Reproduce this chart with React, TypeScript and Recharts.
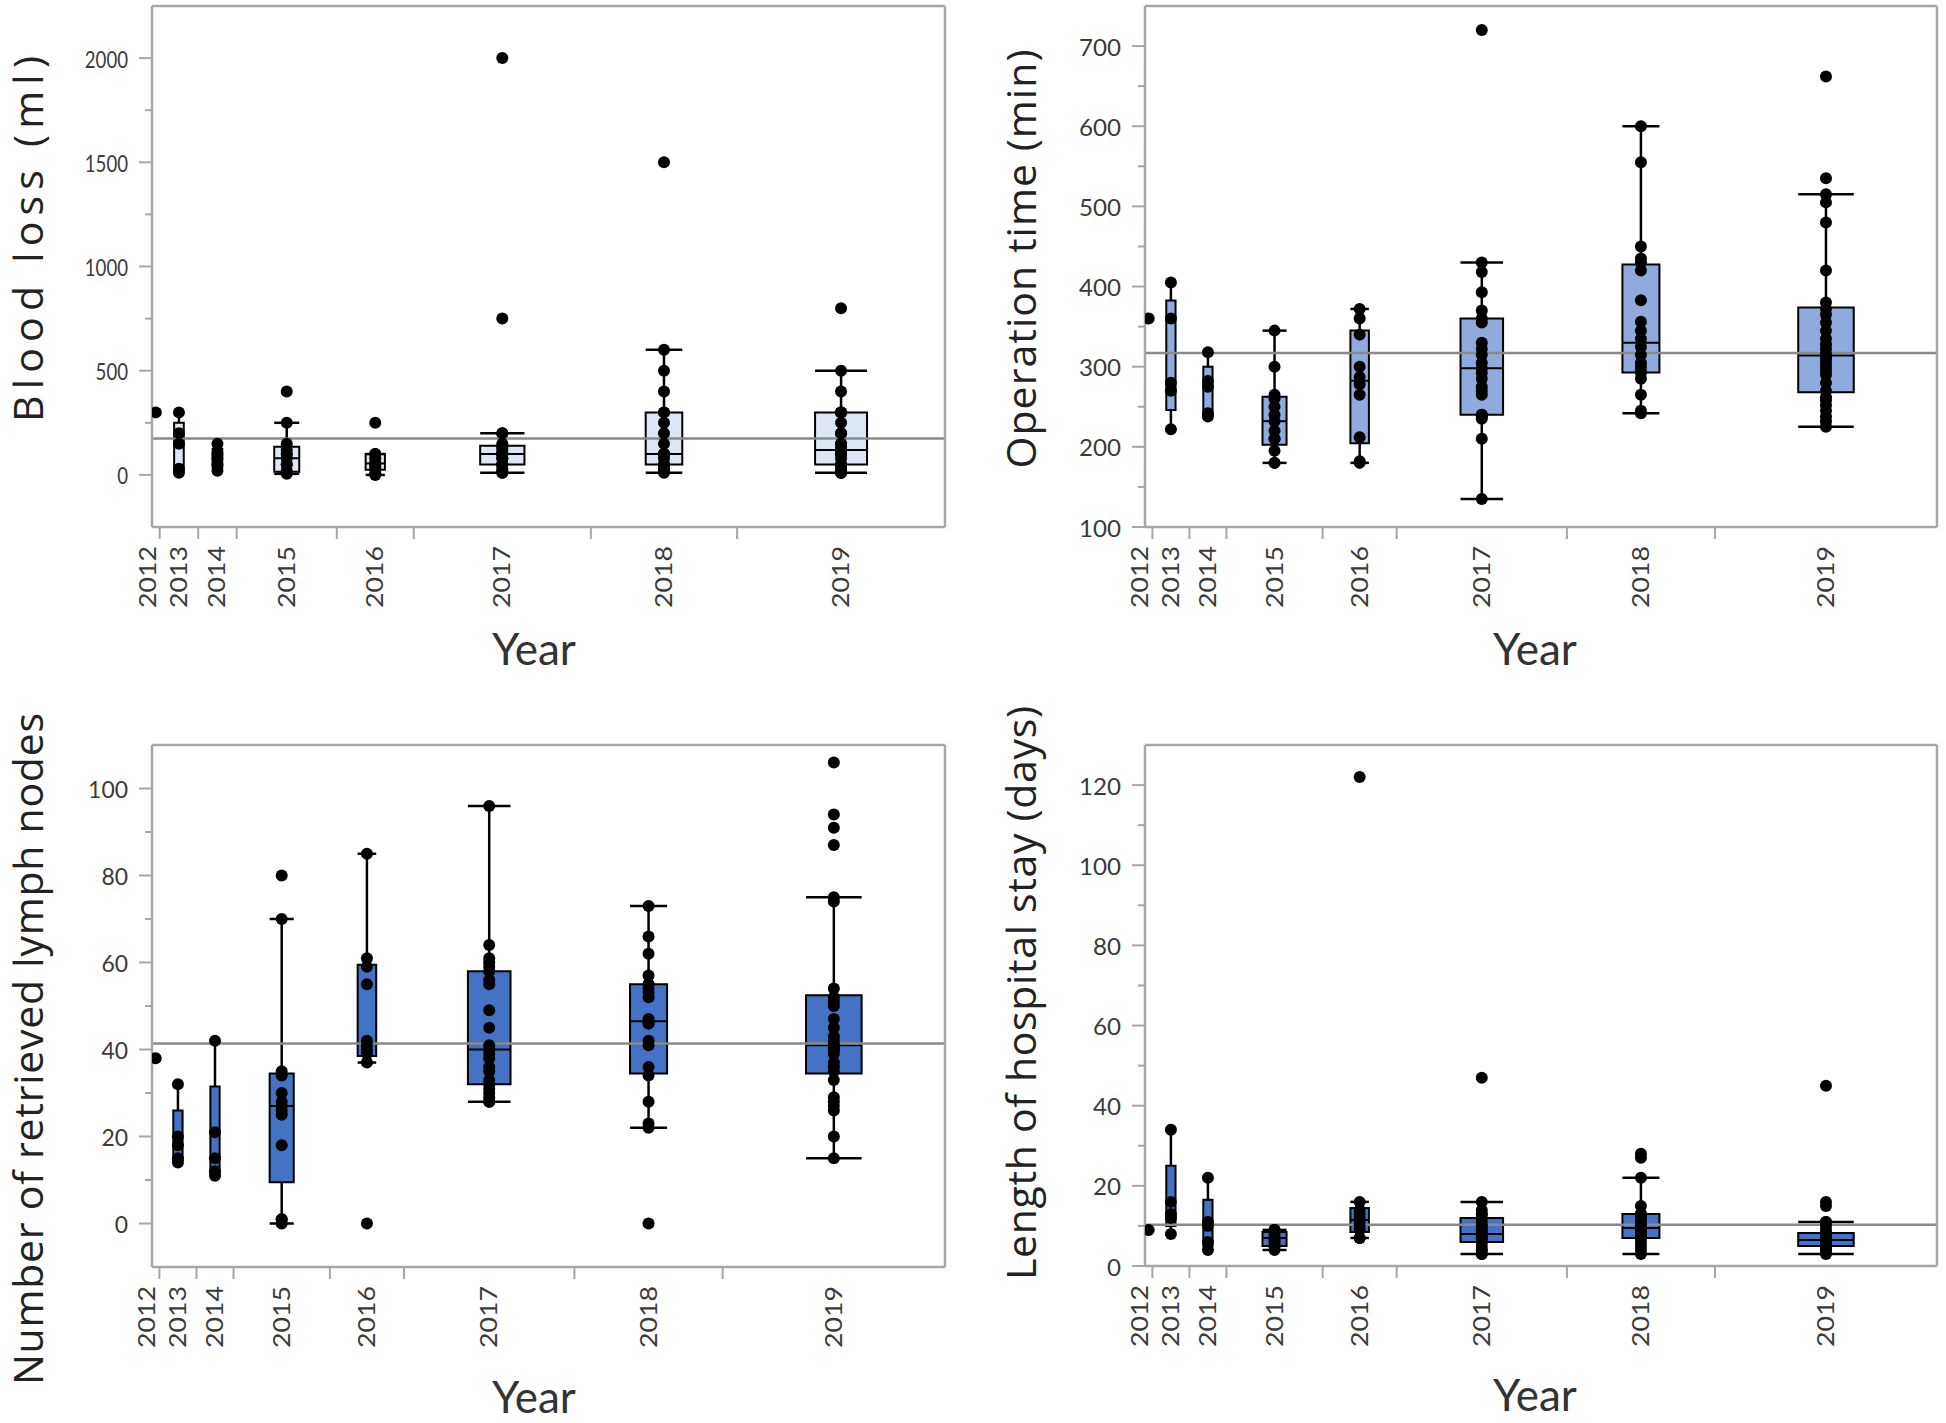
import React from 'react';
import { ComposedChart, Scatter, XAxis, YAxis, ReferenceArea, ReferenceLine, Label } from 'recharts';

// ---------------- data ----------------
const years = ['2012', '2013', '2014', '2015', '2016', '2017', '2018', '2019'];

const bloodLoss: number[][] = [
  [300],
  [10, 30, 150, 200, 300],
  [20, 50, 80, 100, 150],
  [5, 10, 10, 20, 50, 50, 80, 100, 100, 120, 150, 250, 400],
  [0, 10, 30, 40, 50, 60, 80, 100, 100, 250],
  [10, 10, 20, 30, 50, 50, 50, 50, 80, 80, 100, 100, 100, 100, 100, 120, 130, 140, 150, 200, 200, 750, 2000],
  [10, 20, 30, 50, 50, 50, 80, 100, 100, 100, 150, 200, 250, 300, 300, 400, 500, 600, 1500],
  [10, 10, 10, 20, 30, 50, 50, 50, 50, 80, 100, 100, 100, 120, 130, 150, 150, 200, 200, 250, 300, 300, 300, 300, 400, 500, 800],
];

const operationTime: number[][] = [
  [360],
  [222, 270, 280, 360, 405],
  [238, 242, 275, 282, 318],
  [180, 180, 195, 210, 210, 220, 232, 240, 250, 260, 265, 300, 345],
  [180, 182, 212, 265, 278, 287, 300, 340, 360, 372],
  [135, 210, 235, 238, 240, 240, 265, 270, 275, 285, 292, 298, 305, 315, 322, 330, 355, 360, 370, 393, 418, 430, 720],
  [242, 245, 265, 285, 292, 295, 300, 305, 315, 325, 335, 345, 356, 383, 420, 430, 435, 450, 555, 600],
  [225, 232, 238, 245, 252, 258, 262, 270, 280, 290, 295, 300, 305, 310, 312, 316, 322, 328, 335, 345, 355, 365, 372, 380, 420, 480, 505, 515, 535, 662],
];

const lymphNodes: number[][] = [
  [38],
  [14, 15, 18, 20, 32],
  [11, 12, 15, 21, 42],
  [0, 1, 1, 18, 25, 26, 27, 28, 30, 34, 35, 70, 80],
  [0, 37, 39, 40, 41, 42, 55, 59, 61, 85],
  [28, 28, 29, 30, 31, 32, 33, 35, 36, 38, 39, 40, 41, 45, 49, 55, 56, 58, 59, 60, 61, 64, 96],
  [0, 22, 23, 28, 34, 36, 41, 42, 46, 46, 47, 52, 53, 54, 55, 55, 57, 62, 66, 73],
  [15, 20, 26, 27, 28, 29, 33, 35, 36, 37, 39, 40, 40, 41, 41, 41, 42, 43, 45, 47, 50, 51, 52, 54, 74, 75, 87, 91, 94, 106],
];

const hospitalStay: number[][] = [
  [9],
  [8, 12, 13, 16, 34],
  [4, 6, 10, 11, 22],
  [4, 5, 5, 5, 6, 6, 7, 7, 7, 8, 9, 9, 9],
  [7, 7, 9, 10, 11, 12, 13, 14, 16, 122],
  [3, 3, 4, 4, 5, 6, 6, 7, 7, 8, 8, 8, 9, 9, 10, 10, 11, 12, 13, 13, 14, 16, 47],
  [3, 4, 5, 6, 7, 7, 8, 8, 9, 9, 10, 10, 11, 12, 13, 13, 15, 22, 27, 28],
  [3, 4, 4, 4, 5, 5, 5, 5, 5, 6, 6, 6, 6, 6, 6, 7, 7, 7, 7, 8, 8, 8, 8, 9, 10, 11, 11, 15, 16, 45],
];

// grand means (horizontal reference line)
const bloodLossMean = 175;
const operationTimeMean = 317;
const lymphNodesMean = 41.4;
const hospitalStayMean = 10.3;

// y tick labels
const bloodLossTicks = [0, 500, 1000, 1500, 2000];
const bloodLossMinor = [250, 750, 1250, 1750];
const operationTimeTicks = [100, 200, 300, 400, 500, 600, 700];
const operationTimeMinor = [150, 250, 350, 450, 550, 650];
const lymphNodesTicks = [0, 20, 40, 60, 80, 100];
const lymphNodesMinor = [10, 30, 50, 70, 90];
const hospitalStayTicks = [0, 20, 40, 60, 80, 100, 120];
const hospitalStayMinor = [10, 30, 50, 70, 90, 110];

// ---------------- styling ----------------
const FRAME = '#a6a6a6';
const MEAN_C = '#8a8a8a';
const TICK_C = '#3a3a3a';
const BOX_FRAC = 0.25;
const LABEL_GAP = 31; // minimum pixel distance between rotated year labels

function quantile(s: number[], p: number) {
  const n = s.length;
  const pos = p * (n + 1);
  const lo = Math.floor(pos);
  const frac = pos - lo;
  if (lo < 1) return s[0];
  if (lo >= n) return s[n - 1];
  return s[lo - 1] + frac * (s[lo] - s[lo - 1]);
}

function stats(values: number[]) {
  const s = [...values].sort((a, b) => a - b);
  const q1 = quantile(s, 0.25);
  const med = quantile(s, 0.5);
  const q3 = quantile(s, 0.75);
  const iqr = q3 - q1;
  const hi = Math.max(...s.filter((v) => v <= q3 + 1.5 * iqr));
  const lo = Math.min(...s.filter((v) => v >= q1 - 1.5 * iqr));
  return { q1, med, q3, hi, lo };
}

type PanelProps = {
  groups: number[][];
  mean: number;
  domain: [number, number];
  major: number[];
  minor: number[];
  fill: string;
  left: number;
  top: number;
  width: number;
  height: number;
  margin: { top: number; right: number; bottom: number; left: number };
  title: string;
  titleX: number;
  titleY: number;
  titleLen: number;
  yearX: number;
  yearY: number;
  tickCharW: number;
};

function Panel(p: PanelProps) {
  const counts = p.groups.map((g) => g.length);
  const N = counts.reduce((a, b) => a + b, 0);
  const starts = counts.map((_, i) => counts.slice(0, i).reduce((a, b) => a + b, 0));
  const centers = starts.map((s, i) => s + counts[i] / 2);
  const boundaries = starts.slice(1);
  const points = p.groups.flatMap((g, i) => g.map((v) => ({ x: centers[i], y: v })));

  const ax = { xAxisId: 'b', yAxisId: 'y' } as const;
  const elems: React.ReactNode[] = [];
  p.groups.forEach((g, i) => {
    if (g.length < 2) return;
    const st = stats(g);
    const c = centers[i];
    const hw = (counts[i] * BOX_FRAC) / 2;
    const line = { stroke: '#000', strokeWidth: 2.5, ifOverflow: 'visible' as const };
    if (st.hi > st.q3)
      elems.push(<ReferenceLine key={`wu${i}`} {...ax} {...line} segment={[{ x: c, y: st.q3 }, { x: c, y: st.hi }]} />);
    if (st.lo < st.q1)
      elems.push(<ReferenceLine key={`wl${i}`} {...ax} {...line} segment={[{ x: c, y: st.lo }, { x: c, y: st.q1 }]} />);
    elems.push(<ReferenceLine key={`cu${i}`} {...ax} {...line} segment={[{ x: c - hw, y: st.hi }, { x: c + hw, y: st.hi }]} />);
    elems.push(<ReferenceLine key={`cl${i}`} {...ax} {...line} segment={[{ x: c - hw, y: st.lo }, { x: c + hw, y: st.lo }]} />);
    elems.push(
      <ReferenceArea key={`bx${i}`} {...ax} x1={c - hw} x2={c + hw} y1={st.q1} y2={st.q3}
        fill={p.fill} fillOpacity={1} stroke="#000" strokeWidth={2} ifOverflow="visible" />
    );
    elems.push(<ReferenceLine key={`md${i}`} {...ax} stroke="#000" strokeWidth={2} ifOverflow="visible"
      segment={[{ x: c - hw, y: st.med }, { x: c + hw, y: st.med }]} />);
  });

  const YTick = (t: any) => {
    const v = t.payload.value;
    const isMajor = p.major.includes(v);
    const s = String(v);
    return (
      <g>
        <line x1={t.x - (isMajor ? 13 : 7)} x2={t.x} y1={t.y} y2={t.y} stroke={FRAME} strokeWidth={2} />
        {isMajor && (
          <text x={t.x - 24} y={t.y} textAnchor="end" dominantBaseline="central" fontFamily="Lato" fontSize={24}
            fill={TICK_C} textLength={s.length * p.tickCharW} lengthAdjust="spacingAndGlyphs">{s}</text>
        )}
      </g>
    );
  };
  const BTick = (t: any) => (
    <line x1={t.x} x2={t.x} y1={t.y} y2={t.y + 12} stroke={FRAME} strokeWidth={2} />
  );
  const YearTick = (t: any) => {
    const v = t.payload ? t.payload.value : 0;
    let idx = centers.findIndex((c) => Math.abs(c - v) < 1e-6);
    if (idx < 0) idx = t.index ?? 0;
    // push crowded labels apart (right to left), in pixel units relative to this tick
    let shift = 0;
    const k = typeof t.width === 'number' && t.width > 0 ? t.width / N : 0;
    if (k > 0) {
      const px = centers.map((c) => c * k);
      const lab = [...px];
      for (let i = px.length - 2; i >= 0; i--) lab[i] = Math.min(px[i], lab[i + 1] - LABEL_GAP);
      shift = lab[idx] - px[idx];
    }
    return (
      <text transform={`translate(${t.x + shift + 8},${t.y + 18}) rotate(-90)`} textAnchor="end" fontFamily="Lato" fontSize={24}
        fill={TICK_C} textLength={62} lengthAdjust="spacingAndGlyphs">{years[idx]}</text>
    );
  };

  return (
    <div style={{ position: 'absolute', left: p.left, top: p.top }}>
      <ComposedChart width={p.width} height={p.height} margin={p.margin}>
        <XAxis xAxisId="b" type="number" dataKey="x" domain={[0, N]} ticks={boundaries} interval={0}
          tick={<BTick />} tickLine={false} tickSize={0} tickMargin={0} height={1} allowDataOverflow
          axisLine={{ stroke: FRAME, strokeWidth: 2.5 }}>
          <Label content={() => (
            <text x={p.yearX} y={p.yearY} textAnchor="middle" dominantBaseline="central" fontFamily="Lato"
              fontSize={44} fill="#333">Year</text>
          )} />
        </XAxis>
        <XAxis xAxisId="l" type="number" dataKey="x" domain={[0, N]} ticks={centers} interval={0} tick={<YearTick />}
          tickLine={false} tickSize={0} tickMargin={0} height={1} axisLine={{ stroke: 'none' }} allowDataOverflow />
        <XAxis xAxisId="t" orientation="top" type="number" domain={[0, N]} tick={false} tickLine={false}
          height={1} axisLine={{ stroke: FRAME, strokeWidth: 2.5 }} allowDataOverflow />
        <YAxis yAxisId="y" type="number" dataKey="y" domain={p.domain} ticks={[...p.major, ...p.minor]} interval={0}
          tick={<YTick />} tickLine={false} tickSize={0} tickMargin={0} width={1} allowDataOverflow
          axisLine={{ stroke: FRAME, strokeWidth: 2.5 }}>
          <Label content={() => (
            <text transform={`translate(${p.titleX},${p.titleY}) rotate(-90)`} textAnchor="middle"
              dominantBaseline="central" fontFamily="Open Sans" fontSize={41} fill="#222"
              textLength={p.titleLen} lengthAdjust="spacing">{p.title}</text>
          )} />
        </YAxis>
        <YAxis yAxisId="r" orientation="right" type="number" domain={p.domain} tick={false} tickLine={false}
          width={1} axisLine={{ stroke: FRAME, strokeWidth: 2.5 }} allowDataOverflow />
        {elems}
        <ReferenceLine xAxisId="b" yAxisId="y" y={p.mean} stroke={MEAN_C} strokeWidth={2.5} />
        <Scatter xAxisId="b" yAxisId="y" data={points} dataKey="y" isAnimationActive={false}
          shape={(s: any) => <circle cx={s.cx} cy={s.cy} r={6} fill="#000" />} />
      </ComposedChart>
    </div>
  );
}

export default function App() {
  return (
    <div style={{ position: 'absolute', left: 0, top: 0, width: 1946, height: 1423, background: '#fff', overflow: 'hidden' }}>
      <Panel groups={bloodLoss} mean={bloodLossMean} domain={[-250, 2250]} major={bloodLossTicks} minor={bloodLossMinor}
        fill="#dde6f4" left={0} top={0} width={973} height={680}
        margin={{ top: 5, right: 27, bottom: 151, left: 151 }}
        title="Blood loss (ml)" titleX={27} titleY={239} titleLen={366} yearX={534} yearY={648} tickCharW={10.8} />
      <Panel groups={operationTime} mean={operationTimeMean} domain={[100, 750]} major={operationTimeTicks} minor={operationTimeMinor}
        fill="#8faadc" left={973} top={0} width={973} height={680}
        margin={{ top: 5, right: 8, bottom: 151, left: 171 }}
        title="Operation time (min)" titleX={47} titleY={259} titleLen={419} yearX={562} yearY={648} tickCharW={14} />
      <Panel groups={lymphNodes} mean={lymphNodesMean} domain={[-10, 110]} major={lymphNodesTicks} minor={lymphNodesMinor}
        fill="#4472c4" left={0} top={680} width={973} height={743}
        margin={{ top: 64, right: 27, bottom: 154, left: 151 }}
        title="Number of retrieved lymph nodes" titleX={27} titleY={369} titleLen={672} yearX={534} yearY={716} tickCharW={13.3} />
      <Panel groups={hospitalStay} mean={hospitalStayMean} domain={[0, 130]} major={hospitalStayTicks} minor={hospitalStayMinor}
        fill="#4472c4" left={973} top={680} width={973} height={743}
        margin={{ top: 64, right: 8, bottom: 155, left: 171 }}
        title="Length of hospital stay (days)" titleX={47} titleY={313} titleLen={574} yearX={562} yearY={714} tickCharW={14} />
    </div>
  );
}
